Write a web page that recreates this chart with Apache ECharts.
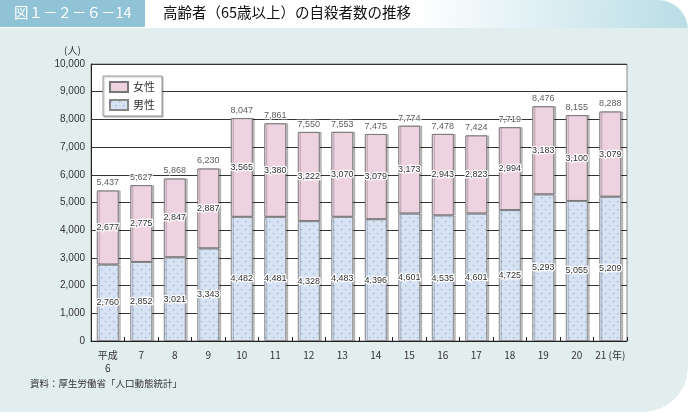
<!DOCTYPE html>
<html><head><meta charset="utf-8">
<script src="https://cdn.jsdelivr.net/npm/echarts@6/dist/echarts.min.js"></script>
<style>html,body{margin:0;padding:0;background:#fff}#c{width:690px;height:414px}</style>
</head><body><div id="c"></div>
<script>
const categories = ['平成\n6','7','8','9','10','11','12','13','14','15','16','17','18','19','20','21'];
const female = [2677,2775,2847,2887,3565,3380,3222,3070,3079,3173,2943,2823,2994,3183,3100,3079];
const male = [2760,2852,3021,3343,4482,4481,4328,4483,4396,4601,4535,4601,4725,5293,5055,5209];
const totals = [5437,5627,5868,6230,8047,7861,7550,7553,7475,7774,7478,7424,7719,8476,8155,8288];

const JP = '"Noto Sans CJK JP", sans-serif';
const NUM = '"Liberation Sans", Arial, sans-serif';

function dotPattern() {
  const c = document.createElement('canvas');
  c.width = 8; c.height = 8;
  const g = c.getContext('2d');
  g.fillStyle = '#d7e3f3'; g.fillRect(0,0,8,8);
  g.fillStyle = '#92b0e2';
  g.fillRect(1,1,1.3,1.3);
  g.fillRect(5,5,1.3,1.3);
  return c;
}
const malePattern = {image: dotPattern(), repeat: 'repeat'};
const fmt = v => v.toLocaleString('en-US');

const chart = echarts.init(document.getElementById('c'), null, {renderer: 'canvas'});
const lblStyle = {
  show: true, position: 'inside', fontFamily: NUM, fontSize: 9, color: '#333',
  textBorderColor: '#fff', textBorderWidth: 2.5,
  formatter: p => fmt(p.value)
};
const barShadow = {shadowColor: 'rgba(0,0,0,0.22)', shadowOffsetX: 2, shadowOffsetY: 0, shadowBlur: 0};
chart.setOption({
  animation: false,
  graphic: [
    {type: 'rect', shape: {x: 0, y: 0, width: 688, height: 30, r: [0, 40, 0, 0]}, z: -10,
      style: {fill: new echarts.graphic.LinearGradient(0, 0, 1, 1, [
        {offset: 0, color: '#ffffff'}, {offset: 0.6, color: '#ffffff'}, {offset: 1, color: '#b9dde6'}])}},
    {type: 'rect', shape: {x: 0, y: 28, width: 688, height: 384, r: [0, 0, 45, 0]}, z: -10,
      style: {fill: '#e2edee'}},
    {type: 'rect', shape: {x: 0, y: 0, width: 145, height: 27}, z: -9, style: {fill: '#8fc3d5'}},
    {type: 'text', left: 14, top: 5, z: 10, style: {text: '図１－２－６－14', fill: '#fff', font: '14.5px ' + JP}},
    {type: 'text', left: 163, top: 5, z: 10, style: {text: '高齢者（65歳以上）の自殺者数の推移', fill: '#111', font: '14.5px ' + JP}},
    {type: 'text', left: 64, top: 45, z: 10, style: {text: '(人)', fill: '#333', font: '10px ' + JP}},
    {type: 'text', left: 30, top: 379, z: 10, style: {text: '資料：厚生労働省「人口動態統計」', fill: '#333', font: '9.5px ' + JP}}
  ],
  legend: {
    data: ['女性', '男性'], orient: 'vertical', left: 103, top: 76,
    backgroundColor: '#fff', borderColor: '#999', borderWidth: 1, padding: [5, 7, 5, 6],
    shadowColor: 'rgba(0,0,0,0.25)', shadowOffsetX: 1, shadowOffsetY: 1, shadowBlur: 1,
    itemWidth: 18, itemHeight: 10, itemGap: 6, icon: 'rect',
    textStyle: {fontFamily: JP, fontSize: 11, color: '#333'}
  },
  grid: {left: 91, right: 63, top: 64, bottom: 73, show: true, backgroundColor: '#fff', borderColor: '#888', borderWidth: 1},
  xAxis: {
    type: 'category', data: categories,
    axisLine: {lineStyle: {color: '#222', width: 1}},
    axisTick: {show: true, inside: true, length: 4, lineStyle: {color: '#222'}},
    axisLabel: {fontFamily: JP, fontSize: 10, color: '#333', margin: 8, lineHeight: 13, interval: 0,
      formatter: (v, i) => i === categories.length - 1 ? v + ' (年)' : v}
  },
  yAxis: {
    type: 'value', min: 0, max: 10000, interval: 1000,
    axisLine: {show: true, lineStyle: {color: '#222'}},
    axisTick: {show: false},
    splitLine: {lineStyle: {color: '#333', width: 1}},
    axisLabel: {fontFamily: NUM, fontSize: 10, color: '#333', margin: 6, formatter: v => fmt(v)}
  },
  series: [
    {name: '男性', type: 'bar', stack: 's', data: male, barWidth: 22,
      itemStyle: Object.assign({color: malePattern, borderColor: '#888', borderWidth: 1}, barShadow),
      label: lblStyle},
    {name: '女性', type: 'bar', stack: 's', data: female, barWidth: 22,
      itemStyle: Object.assign({color: '#eed2e0', borderColor: '#777', borderWidth: 1}, barShadow),
      label: lblStyle},
    {name: 'total', type: 'scatter', data: totals, symbolSize: 0, silent: true,
      label: {show: true, position: 'top', distance: 3, fontFamily: NUM, fontSize: 9, color: '#333',
        textBorderColor: '#fff', textBorderWidth: 2.5, formatter: p => fmt(p.value)}}
  ]
});
</script></body></html>
